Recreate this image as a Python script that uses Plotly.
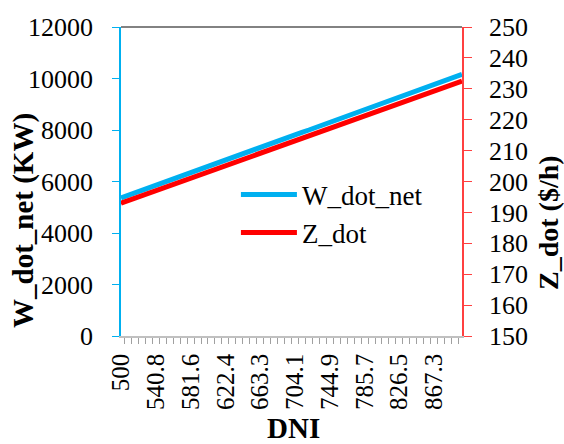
import plotly.graph_objects as go

dni = ["500", "508.2", "516.3", "524.5", "532.7", "540.8", "549.0", "557.1", "565.3", "573.5",
       "581.6", "589.8", "598.0", "606.1", "614.3", "622.4", "630.6", "638.8", "646.9", "655.1",
       "663.3", "671.4", "679.6", "687.8", "695.9", "704.1", "712.2", "720.4", "728.6", "736.7",
       "744.9", "753.1", "761.2", "769.4", "777.6", "785.7", "793.9", "802.0", "810.2", "818.4",
       "826.5", "834.7", "842.9", "851.0", "859.2", "867.3", "875.5", "883.7", "891.8", "900"]

w_dot_net = [5360, 5460, 5560, 5650, 5750, 5850, 5950, 6050, 6140, 6240,
             6340, 6440, 6540, 6630, 6730, 6830, 6930, 7030, 7120, 7220,
             7320, 7420, 7520, 7610, 7710, 7810, 7910, 8000, 8100, 8200,
             8300, 8400, 8490, 8590, 8690, 8790, 8890, 8980, 9080, 9180,
             9280, 9380, 9470, 9570, 9670, 9770, 9860, 9960, 10060, 10160]

z_dot = [193.0, 193.8, 194.6, 195.4, 196.2, 197.0, 197.8, 198.6, 199.4, 200.2,
         201.0, 201.8, 202.6, 203.5, 204.3, 205.1, 205.9, 206.7, 207.5, 208.3,
         209.1, 209.9, 210.7, 211.5, 212.4, 213.2, 214.0, 214.8, 215.6, 216.4,
         217.2, 218.0, 218.8, 219.6, 220.4, 221.3, 222.1, 222.9, 223.7, 224.5,
         225.3, 226.1, 226.9, 227.7, 228.5, 229.3, 230.1, 230.9, 231.7, 232.5]

tick_text = [d if i % 5 == 0 and i < 46 else "" for i, d in enumerate(dni)]

BLUE = "rgb(0,176,240)"
RED = "rgb(255,0,0)"
FONT = "Times New Roman, Liberation Serif, DejaVu Serif, serif"

fig = go.Figure()
fig.add_trace(go.Scatter(x=dni, y=w_dot_net, name="W_dot_net", mode="lines",
                         line=dict(color=BLUE, width=5), yaxis="y"))
fig.add_trace(go.Scatter(x=dni, y=z_dot, name="Z_dot", mode="lines",
                         line=dict(color=RED, width=5), yaxis="y2"))

fig.update_layout(
    width=564, height=444,
    margin=dict(l=121, r=102, t=27, b=108, autoexpand=False),
    paper_bgcolor="white", plot_bgcolor="white",
    font=dict(family=FONT, size=26, color="black"),
    showlegend=True,
    legend=dict(x=0.337, y=0.536, xanchor="left", yanchor="top",
                bgcolor="rgba(0,0,0,0)", font=dict(size=27, family=FONT),
                tracegroupgap=0, itemwidth=56),
    xaxis=dict(type="category", categoryorder="array", categoryarray=dni,
               tickmode="array", tickvals=dni, ticktext=tick_text,
               tickangle=-90, tickson="boundaries", ticks="outside", ticklen=6,
               tickcolor="#A0A0A0", showline=True, linecolor="#C0C0C0", linewidth=1.5,
               showgrid=False, zeroline=False, tickfont=dict(size=25, family=FONT),
               ticklabelstandoff=6, automargin=False),
    yaxis=dict(range=[0, 12000], dtick=2000, tickformat="d", showgrid=False, zeroline=False,
               showline=True, linecolor=BLUE, linewidth=1.5, ticks="outside",
               tickcolor=BLUE, ticklen=7, tickfont=dict(size=26, family=FONT),
               ticklabelstandoff=14, automargin=False),
    yaxis2=dict(range=[150, 250], dtick=10, tickformat="d", overlaying="y", side="right",
                showgrid=False, zeroline=False, showline=True, linecolor="rgb(255,64,64)",
                linewidth=1.5, ticks="outside", tickcolor="rgb(255,64,64)", ticklen=8,
                tickfont=dict(size=26, family=FONT), ticklabelstandoff=12, automargin=False),
    shapes=[dict(type="line", xref="paper", yref="paper", x0=0, x1=1, y0=1, y1=1,
                 line=dict(color="#595959", width=1.5))],
    annotations=[
        dict(text="<b>W_dot_net (KW)</b>", x=23, y=220, xref="paper", yref="paper",
             showarrow=False, textangle=-90, font=dict(size=29, family=FONT)),
        dict(text="<b>Z_dot ($/h)</b>", x=548, y=223, xref="paper", yref="paper",
             showarrow=False, textangle=-90, font=dict(size=28, family=FONT)),
        dict(text="<b>DNI</b>", x=293, y=428, xref="paper", yref="paper",
             showarrow=False, font=dict(size=29, family=FONT)),
    ],
)

# convert pixel positions of titles to paper coordinates
pw, ph = 564 - 121 - 102, 444 - 27 - 108
for a in fig.layout.annotations:
    px, py = a.x, a.y
    a.x = (px - 121) / pw
    a.y = (444 - 108 - py) / ph
    a.xanchor = "center"
    a.yanchor = "middle"

fig.write_html("out.html", config={"displayModeBar": False},
               post_script="document.body.style.margin='0';document.body.style.padding='0';")
